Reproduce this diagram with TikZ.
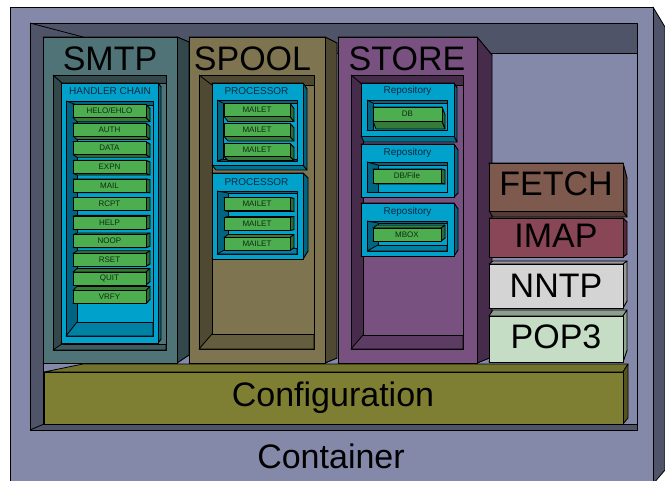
\documentclass[tikz,border=0pt]{standalone}
\usepackage{fontspec}
\setmainfont{Liberation Sans}
\usetikzlibrary{calc}
\definecolor{contfront}{HTML}{8589A9}
\definecolor{contdark}{HTML}{4F5469}
\definecolor{smtpfront}{HTML}{507377}
\definecolor{smtpdark}{HTML}{33484B}
\definecolor{spoolfront}{HTML}{7E7550}
\definecolor{spooldark}{HTML}{4E4930}
\definecolor{storefront}{HTML}{785181}
\definecolor{storedark}{HTML}{462B4A}
\definecolor{cyanfront}{HTML}{00A2CC}
\definecolor{cyandark}{HTML}{006582}
\definecolor{grnfront}{HTML}{4CAE4F}
\definecolor{grndark}{HTML}{2D6E30}
\definecolor{fetchfront}{HTML}{7D5A4D}
\definecolor{fetchdark}{HTML}{4B352D}
\definecolor{imapfront}{HTML}{894657}
\definecolor{imapdark}{HTML}{58293A}
\definecolor{nntpfront}{HTML}{D4D4D4}
\definecolor{nntpdark}{HTML}{9A9A9A}
\definecolor{popfront}{HTML}{C5DDC5}
\definecolor{popdark}{HTML}{8FA68F}
\definecolor{conffront}{HTML}{7F7F34}
\definecolor{confdark}{HTML}{55551F}
\definecolor{capink}{HTML}{0C2A40}
\definecolor{grnink}{HTML}{132A14}
\tikzset{
  edge/.style={draw=black, line width=0.8pt, line join=round},
  bigtxt/.style={font=\fontsize{34}{34}\selectfont, inner sep=0pt, anchor=base},
  captxt/.style={font=\fontsize{10}{10}\selectfont, text=capink, inner sep=0pt, anchor=base},
  grntxt/.style={font=\fontsize{8}{8}\selectfont, text=grnink, inner sep=0pt}
}
% solid block: x1 y1 x2 y2, depth dx, dy top, dy bottom, front, side
\newcommand{\solidbox}[9]{%
  \filldraw[edge, fill=#8!72!black] (#1,#2) -- (#3,#2) -- ({#3+#5},{#2+(#6)}) -- ({#1+#5},{#2+(#6)}) -- cycle;
  \filldraw[edge, fill=#9!80!#8] (#1,#4) -- (#3,#4) -- ({#3+#5},{#4+(#7)}) -- ({#1+#5},{#4+(#7)}) -- cycle;
  \filldraw[edge, fill=#9] (#3,#2) -- ({#3+#5},{#2+(#6)}) -- ({#3+#5},{#4+(#7)}) -- (#3,#4) -- cycle;
  \filldraw[edge, fill=#8] (#1,#2) rectangle (#3,#4);
}
% recess: x1 y1 x2 y2, left, top and bottom wall, wall, back
\newcommand{\hollowbox}[9]{%
  \filldraw[edge, fill=#8] (#1,#2) rectangle (#3,#4);
  \draw[edge] (#1,#2) -- ({#1+#5},{#2+#6});
  \filldraw[edge, fill=#8!55!#9] (#1,#4) -- (#3,#4) -- ({#3},{#4-(#7)}) -- ({#1+#5},{#4-(#7)}) -- cycle;
  \filldraw[edge, fill=#9] ({#1+#5},{#2+#6}) rectangle ({#3},{#4-(#7)});
}

\begin{document}
\begin{tikzpicture}[x=1pt, y=-1pt]
  \useasboundingbox (0,0) rectangle (665,480);
  \clip (0,0) rectangle (665,480);

  % Container
  \filldraw[edge, fill=contdark] (653,7) -- (665,27) -- (665,470) -- (653,484) -- cycle;
  \filldraw[edge, fill=contfront] (10,7) rectangle (653,484);
  \filldraw[edge, fill=contdark] (30,23) rectangle (637,430);
  \filldraw[edge, fill=contfront] (43,53) rectangle (637,424);
  \draw[edge] (30,23) -- (83,37);
  \draw[edge] (30,430) -- (44,424);

  % SMTP
  \solidbox{43}{37}{177}{363}{12}{5}{-8}{smtpfront}{smtpdark}
  \hollowbox{53}{75}{166}{350}{9}{8}{6}{smtpdark}{smtpfront}
  \node[bigtxt] (smtp) at (110,70) {SMTP};
  \solidbox{61}{83}{158}{343}{3}{4}{-4}{cyanfront}{cyandark}
  \hollowbox{66}{101}{153}{336}{11}{4}{14}{cyandark}{cyanfront}
  \node[captxt] (chain) at (110,94) {HANDLER CHAIN};
  \foreach \cmd [count=\i from 0] in {{HELO/EHLO},AUTH,DATA,EXPN,MAIL,RCPT,HELP,NOOP,RSET,QUIT,VRFY} {
    \pgfmathsetmacro{\yc}{111+18.6*\i}
    \pgfmathsetmacro{\ya}{\yc-6.5}
    \pgfmathsetmacro{\yb}{\yc+6.5}
    \pgfmathsetmacro{\dy}{(205-\yc)*0.045}
    \solidbox{73}{\ya}{146}{\yb}{4}{\dy}{\dy}{grnfront}{grndark}
    \node[grntxt] (cmd\i) at (109.5,\yc) {\cmd};
  }

  % SPOOL
  \solidbox{189}{37}{325}{363}{12}{6}{-5}{spoolfront}{spooldark}
  \hollowbox{199}{75}{314}{349}{13}{10}{15}{spooldark}{spoolfront}
  \node[bigtxt] (spool) at (252.5,70) {SPOOL};
  \solidbox{212}{83}{303}{165}{4}{6}{5}{cyanfront}{cyandark}
  \hollowbox{217}{100}{297}{161}{6}{3}{2}{cyandark}{cyanfront}
  \node[captxt] (proca) at (256.5,94) {PROCESSOR};
  \solidbox{212}{173}{303}{259}{5}{5}{-8}{cyanfront}{cyandark}
  \hollowbox{217}{191}{297}{254}{11}{2}{6}{cyandark}{cyanfront}
  \node[captxt] (procb) at (256.5,185) {PROCESSOR};
  \foreach \yc/\dy [count=\i] in {110/5,130/4.5,150/4,204/1,224/-1,244/-3} {
    \pgfmathsetmacro{\ya}{\yc-6.5}
    \pgfmathsetmacro{\yb}{\yc+6.5}
    \solidbox{224}{\ya}{290}{\yb}{4}{\dy}{\dy}{grnfront}{grndark}
    \node[grntxt] (mailet\i) at (257,\yc) {MAILET};
  }

  % STORE
  \solidbox{338}{37}{477}{363}{15}{18}{-6}{storefront}{storedark}
  \hollowbox{351}{75}{463}{349}{12}{10}{14}{storedark}{storefront}
  \node[bigtxt] (store) at (407,70) {STORE};
  \solidbox{361}{83}{454}{136}{3}{5}{6}{cyanfront}{cyandark}
  \hollowbox{367}{100}{447}{130}{6}{3}{0}{cyandark}{cyanfront}
  \solidbox{373}{107}{442}{121}{3}{8}{8}{grnfront}{grndark}
  \node[captxt] (repoa) at (407.5,93) {Repository};
  \node[grntxt] (db) at (407.5,114) {DB};
  \solidbox{361}{144}{454}{197}{4}{6}{-4}{cyanfront}{cyandark}
  \hollowbox{367}{162}{447}{192}{11}{3}{0}{cyandark}{cyanfront}
  \solidbox{373}{169}{441}{183}{4}{1}{1}{grnfront}{grndark}
  \node[captxt] (repob) at (407.5,155) {Repository};
  \node[grntxt] (dbfile) at (407,176) {DB/File};
  \solidbox{361}{203}{454}{256}{4}{6}{-6}{cyanfront}{cyandark}
  \hollowbox{367}{221}{447}{251}{11}{2}{6}{cyandark}{cyanfront}
  \solidbox{373}{228}{441}{241}{4}{-3}{-3}{grnfront}{grndark}
  \node[captxt] (repoc) at (407.5,214) {Repository};
  \node[grntxt] (mbox) at (407,234.5) {MBOX};

  % Protocols
  \solidbox{489}{163}{623}{211}{4}{15}{6}{fetchfront}{fetchdark}
  \node[bigtxt] (fetch) at (556,195) {FETCH};
  \solidbox{489}{218}{623}{257}{4}{4}{-3}{imapfront}{imapdark}
  \node[bigtxt] (imap) at (556,247) {IMAP};
  \solidbox{489}{264}{623}{308}{4}{-3}{-7}{nntpfront}{nntpdark}
  \node[bigtxt] (nntp) at (556,297) {NNTP};
  \solidbox{489}{316}{623}{362}{4}{-6}{-12}{popfront}{popdark}
  \node[bigtxt] (pop) at (556,348) {POP3};

  % Configuration
  \filldraw[edge, fill=conffront!90!black] (44,372) -- (83,364) -- (628,364) -- (623,372) -- cycle;
  \filldraw[edge, fill=confdark] (623,372) -- (628,364) -- (628,418) -- (623,424) -- cycle;
  \filldraw[edge, fill=conffront] (44,372) rectangle (623,424);
  \node[bigtxt] (config) at (333,406) {Configuration};
  \node[bigtxt] (container) at (331,468) {Container};
\end{tikzpicture}
\end{document}
